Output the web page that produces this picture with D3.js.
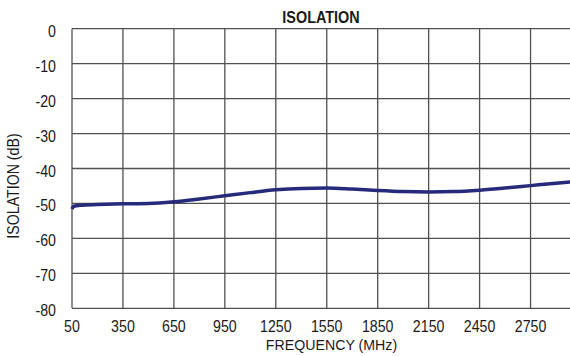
<!DOCTYPE html>
<html><head><meta charset="utf-8">
<script src="https://cdn.jsdelivr.net/npm/d3@7"></script>
<style>body{margin:0;background:#fff}svg{display:block}text{font-family:"Liberation Sans",Arial,sans-serif;fill:#1a1a1a}</style>
</head><body><svg id="c" width="570" height="356"></svg>
<script>
const xTicks = [50,350,650,950,1250,1550,1850,2150,2450,2750];
const yTicks = [0,-10,-20,-30,-40,-50,-60,-70,-80];
const freq = [50,60,100,200,350,500,650,800,950,1100,1250,1400,1550,1700,1850,2000,2150,2300,2450,2600,2750,2900,3000];
const isolation = [-51.6,-50.8,-50.5,-50.3,-50.1,-50.0,-49.5,-48.7,-47.8,-46.9,-46.1,-45.7,-45.6,-45.9,-46.3,-46.6,-46.7,-46.6,-46.2,-45.6,-44.9,-44.2,-43.8];

const svg = d3.select("#c");
const L=72, R=573, T=28.7, B=308.3;
const x = d3.scaleLinear().domain([50,3000]).range([L,R]);
const y = d3.scaleLinear().domain([-80,0]).range([B,T]);
const grid = "#505050";
const SX = 0.86, FS = 16.5;

svg.append("g").selectAll("line").data(xTicks).join("line")
  .attr("x1",d=>x(d)).attr("x2",d=>x(d)).attr("y1",T).attr("y2",B)
  .attr("stroke",grid).attr("stroke-width",1.3);
svg.append("g").selectAll("line").data(yTicks).join("line")
  .attr("x1",L).attr("x2",570).attr("y1",d=>y(d)).attr("y2",d=>y(d))
  .attr("stroke",grid).attr("stroke-width",1.3);

svg.append("g").selectAll("text").data(yTicks).join("text")
  .attr("transform",d=>`translate(56,${y(d)+8}) scale(${SX},1)`).attr("text-anchor","end")
  .attr("font-size",FS).text(d=>d);
svg.append("g").selectAll("text").data(xTicks).join("text")
  .attr("transform",d=>`translate(${x(d)},332) scale(${SX},1)`).attr("text-anchor","middle")
  .attr("font-size",FS).text(d=>d);

svg.append("text").attr("transform",`translate(321,23) scale(0.9,1)`).attr("text-anchor","middle")
  .attr("font-size",16).attr("font-weight","bold").text("ISOLATION");
svg.append("text").attr("transform",`translate(331.5,349.5) scale(0.946,1)`).attr("text-anchor","middle")
  .attr("font-size",15).text("FREQUENCY (MHz)");
svg.append("text").attr("transform",`translate(18.5,186) rotate(-90) scale(${SX},1)`).attr("text-anchor","middle")
  .attr("font-size",FS).text("ISOLATION (dB)");

const line = d3.line().x((d,i)=>x(freq[i])).y(d=>y(d)).curve(d3.curveMonotoneX);
svg.append("path").datum(isolation).attr("d",line).attr("fill","none")
  .attr("stroke","#262a7a").attr("stroke-width",3.5);
</script></body></html>
